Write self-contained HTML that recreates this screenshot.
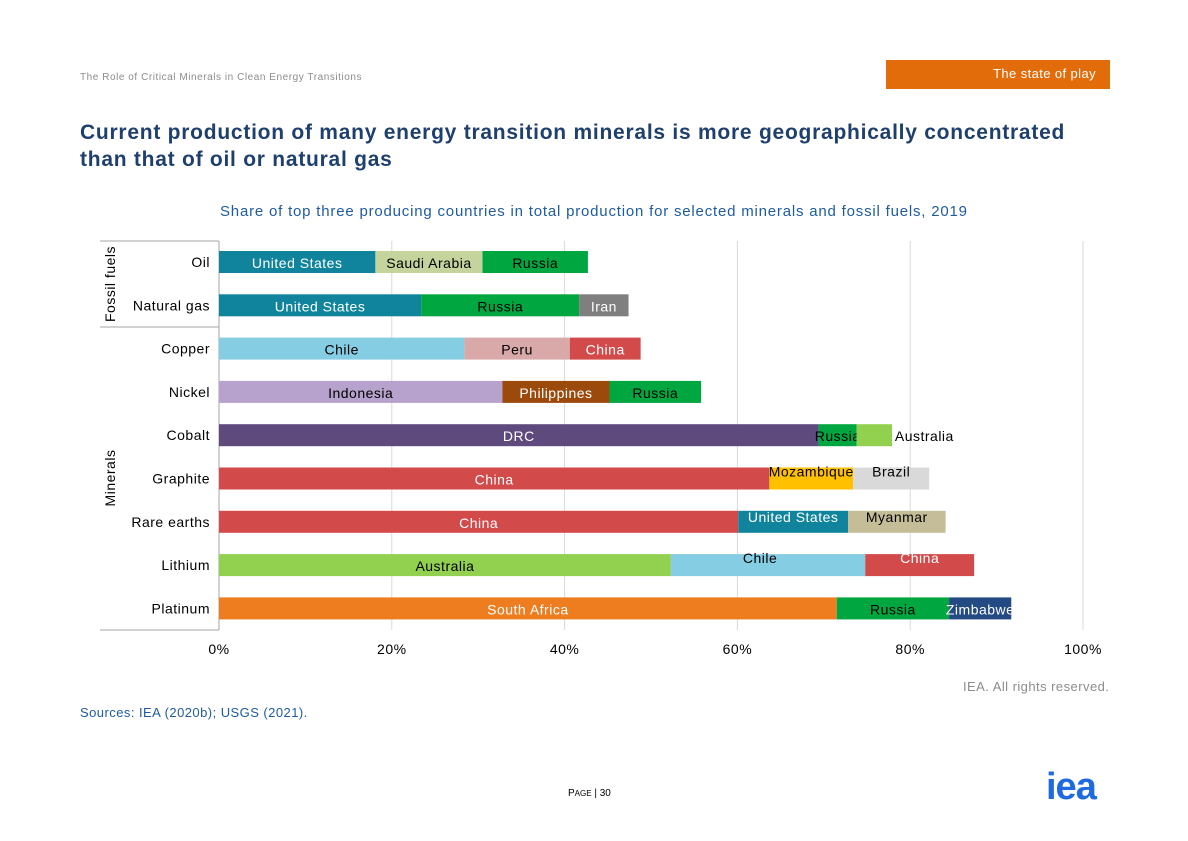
<!DOCTYPE html>
<html><head><meta charset="utf-8"><style>
body{margin:0;width:1188px;height:841px;background:#fff;font-family:"Liberation Sans",sans-serif;position:relative;overflow:hidden}
.a{position:absolute;white-space:nowrap}
svg text{letter-spacing:0.5px}
</style></head><body>
<div class="a" style="left:80px;top:72px;font-size:10px;color:#8c8c8c;letter-spacing:0.55px">The Role of Critical Minerals in Clean Energy Transitions</div>
<div class="a" style="left:886px;top:60px;width:224px;height:29px;background:#e36c0a"><span style="position:absolute;right:14px;top:6px;color:#fff;font-size:13px;letter-spacing:0.4px">The state of play</span></div>
<div class="a" style="left:80px;top:119px;font-size:21px;font-weight:bold;color:#1f3f6e;line-height:27px;letter-spacing:0.75px">Current production of many energy transition minerals is more geographically concentrated<br>than that of oil or natural gas</div>
<div class="a" style="left:220px;top:203px;font-size:15px;color:#1f5b9e;letter-spacing:0.8px">Share of top three producing countries in total production for selected minerals and fossil fuels, 2019</div>
<svg class="a" style="left:0;top:0" width="1188" height="841" id="chart"></svg>
<div class="a" style="left:963px;top:679px;font-size:13px;color:#8c8c8c;letter-spacing:0.45px">IEA. All rights reserved.</div>
<div class="a" style="left:80px;top:705px;font-size:13px;color:#1f5b9e;letter-spacing:0.45px">Sources: IEA (2020b); USGS (2021).</div>
<div class="a" style="left:568px;top:788px;font-size:10px;color:#000">P<span style="font-size:8px">AGE</span> | 30</div>
<div class="a" style="left:1046px;top:766px;font-size:38px;font-weight:bold;color:#1f6ae0;letter-spacing:-1px">iea</div>
<script>
const categories=["Oil","Natural gas","Copper","Nickel","Cobalt","Graphite","Rare earths","Lithium","Platinum"];
const countries=[["United States","Saudi Arabia","Russia"],["United States","Russia","Iran"],["Chile","Peru","China"],["Indonesia","Philippines","Russia"],["DRC","Russia","Australia"],["China","Mozambique","Brazil"],["China","United States","Myanmar"],["Australia","Chile","China"],["South Africa","Russia","Zimbabwe"]];
const shares=[[18.1,12.4,12.2],[23.4,18.3,5.7],[28.4,12.2,8.2],[32.8,12.4,10.6],[69.4,4.4,4.1],[63.7,9.7,8.8],[60.1,12.7,11.3],[52.3,22.5,12.6],[71.5,13.0,7.2]];
const ticks=[0,20,40,60,80,100];
const colorMap={"United States":"#10849c","Saudi Arabia":"#c4d49c","Russia":"#00a63f","Iran":"#7f7f7f","Chile":"#85cde2","Peru":"#d9a8a8","China":"#d34a4a","Indonesia":"#b6a2cd","Philippines":"#9c4a0c","DRC":"#5f4a7e","Australia":"#92d050","Mozambique":"#ffc000","Brazil":"#d9d9d9","Myanmar":"#c4bd97","South Africa":"#ed7d1f","Zimbabwe":"#244a84"};
const darkText=new Set(["United States","Iran","China","Philippines","DRC","South Africa","Zimbabwe"]);
const x=v=>219+v*8.64, y=i=>262+i*43.3;
const svg=document.getElementById('chart'),NS="http://www.w3.org/2000/svg";
function mk(t,a,p){const e=document.createElementNS(NS,t);for(const k in a)e.setAttribute(k,a[k]);(p||svg).appendChild(e);return e;}
ticks.forEach(t=>{
  if(t>0){const g=mk('line',{x1:x(t),x2:x(t),y1:241,y2:630,stroke:'#d9d9d9'});}
  const l=mk('text',{x:x(t),y:654,'text-anchor':'middle','font-size':14,fill:'#000'});l.textContent=t+'%';
  
});
mk('line',{x1:219,x2:219,y1:241,y2:630,stroke:'#a6a6a6'});
[241,327,630].forEach(yy=>mk('line',{x1:100,x2:219,y1:yy,y2:yy,stroke:'#a6a6a6'}));
const g1=mk('text',{transform:'translate(115,284) rotate(-90)','text-anchor':'middle','font-size':14});g1.textContent='Fossil fuels';

const g2=mk('text',{transform:'translate(115,478) rotate(-90)','text-anchor':'middle','font-size':14});g2.textContent='Minerals';

const off={"4-1":[0,0],"4-2":[50,0],"5-1":[0,-8],"5-2":[0,-8],"6-1":[0,-6],"6-2":[0,-6],"7-1":[-8,-8],"7-2":[0,-8]};
categories.forEach((c,i)=>{
  const cl=mk('text',{x:210,y:y(i)+5,'text-anchor':'end','font-size':14});cl.textContent=c;
  
  let acc=0;
  shares[i].forEach((v,j)=>{
    const n=countries[i][j];
    const r=mk('rect',{x:x(acc),y:y(i)-11,width:x(acc+v)-x(acc),height:22,fill:colorMap[n]});
    
    const o=off[i+'-'+j]||[0,0];
    const t=mk('text',{x:(x(acc)+x(acc+v))/2+o[0],y:y(i)+6+o[1],'text-anchor':'middle','font-size':14,fill:(darkText.has(n)?'#fff':'#000')});
    t.textContent=n;
    acc+=v;
  });
});
</script>
</body></html>
